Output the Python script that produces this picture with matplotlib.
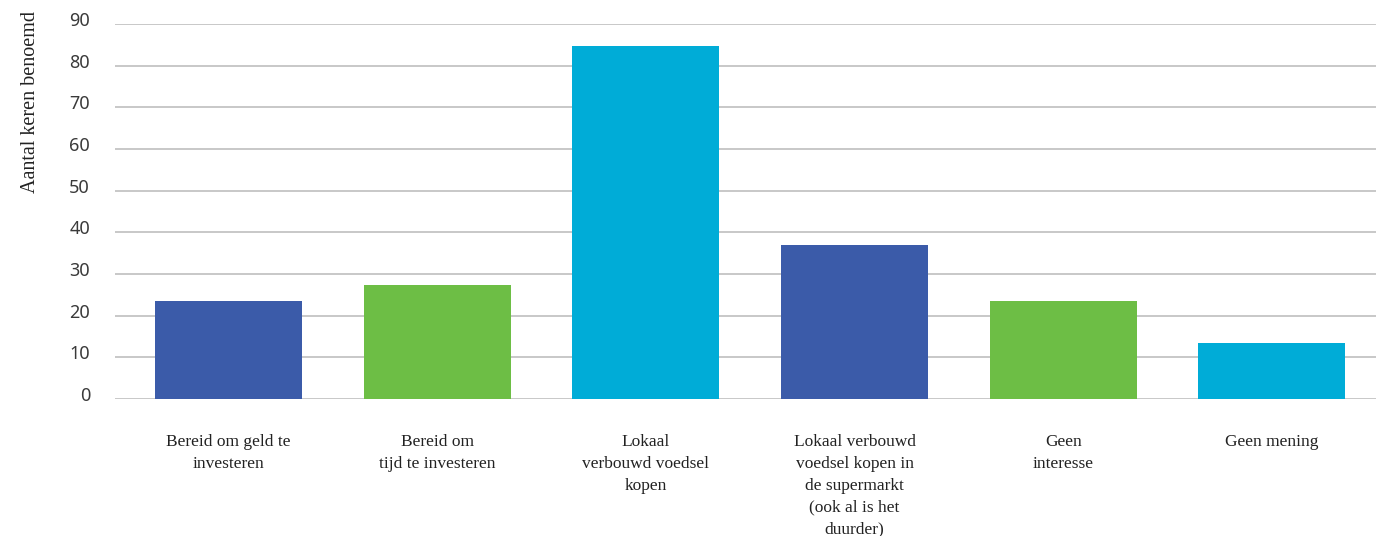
import matplotlib
matplotlib.use('Agg')
import matplotlib.pyplot as plt
import matplotlib.transforms as mtransforms

# Answer categories (x labels) and how often each was named
categories = [
    'Bereid om geld te\ninvesteren',
    'Bereid om\ntijd te investeren',
    'Lokaal\nverbouwd voedsel\nkopen',
    'Lokaal verbouwd\nvoedsel kopen in\nde supermarkt\n(ook al is het\nduurder)',
    'Geen\ninteresse',
    'Geen mening',
]
counts = [23.5, 27.4, 84.7, 37.0, 23.5, 13.4]
bar_colors = ['#3B5BA9', '#6DBE45', '#00ACD7', '#3B5BA9', '#6DBE45', '#00ACD7']
y_ticks = [0, 10, 20, 30, 40, 50, 60, 70, 80, 90]

fig = plt.figure(figsize=(13.79, 5.36), dpi=100)
ax = fig.add_axes([0.0834, 0.2556, 0.9146, 0.6996])

x = range(len(categories))
ax.bar(x, counts, width=0.705, color=bar_colors, zorder=3)

ax.set_xlim(-0.544, 5.5)
ax.set_ylim(0, 90)
ax.set_yticks(y_ticks)
ax.yaxis.grid(True, color='#BFBFBF', linewidth=1.2, zorder=0)
ax.set_axisbelow(True)
for s in ax.spines.values():
    s.set_visible(False)

ax.tick_params(axis='y', length=0, pad=18, labelsize=13, labelcolor='#3a3a3a')
for lab in ax.get_yticklabels():
    lab.set_fontfamily('Noto Sans')
    lab.set_transform(lab.get_transform() +
                      mtransforms.ScaledTranslation(0, 5 / 100, fig.dpi_scale_trans))

ax.set_xticks(list(x))
ax.set_xticklabels(categories, fontfamily='Liberation Serif', fontsize=12.5,
                   color='#222222', linespacing=1.5)
ax.tick_params(axis='x', length=0, pad=25)

ax.set_ylabel('Aantal keren benoemd', fontfamily='Liberation Serif', fontsize=14.5,
              color='#222222')
ax.yaxis.set_label_coords(-0.0595, 0.792)

fig.savefig('out.png', dpi=100)
